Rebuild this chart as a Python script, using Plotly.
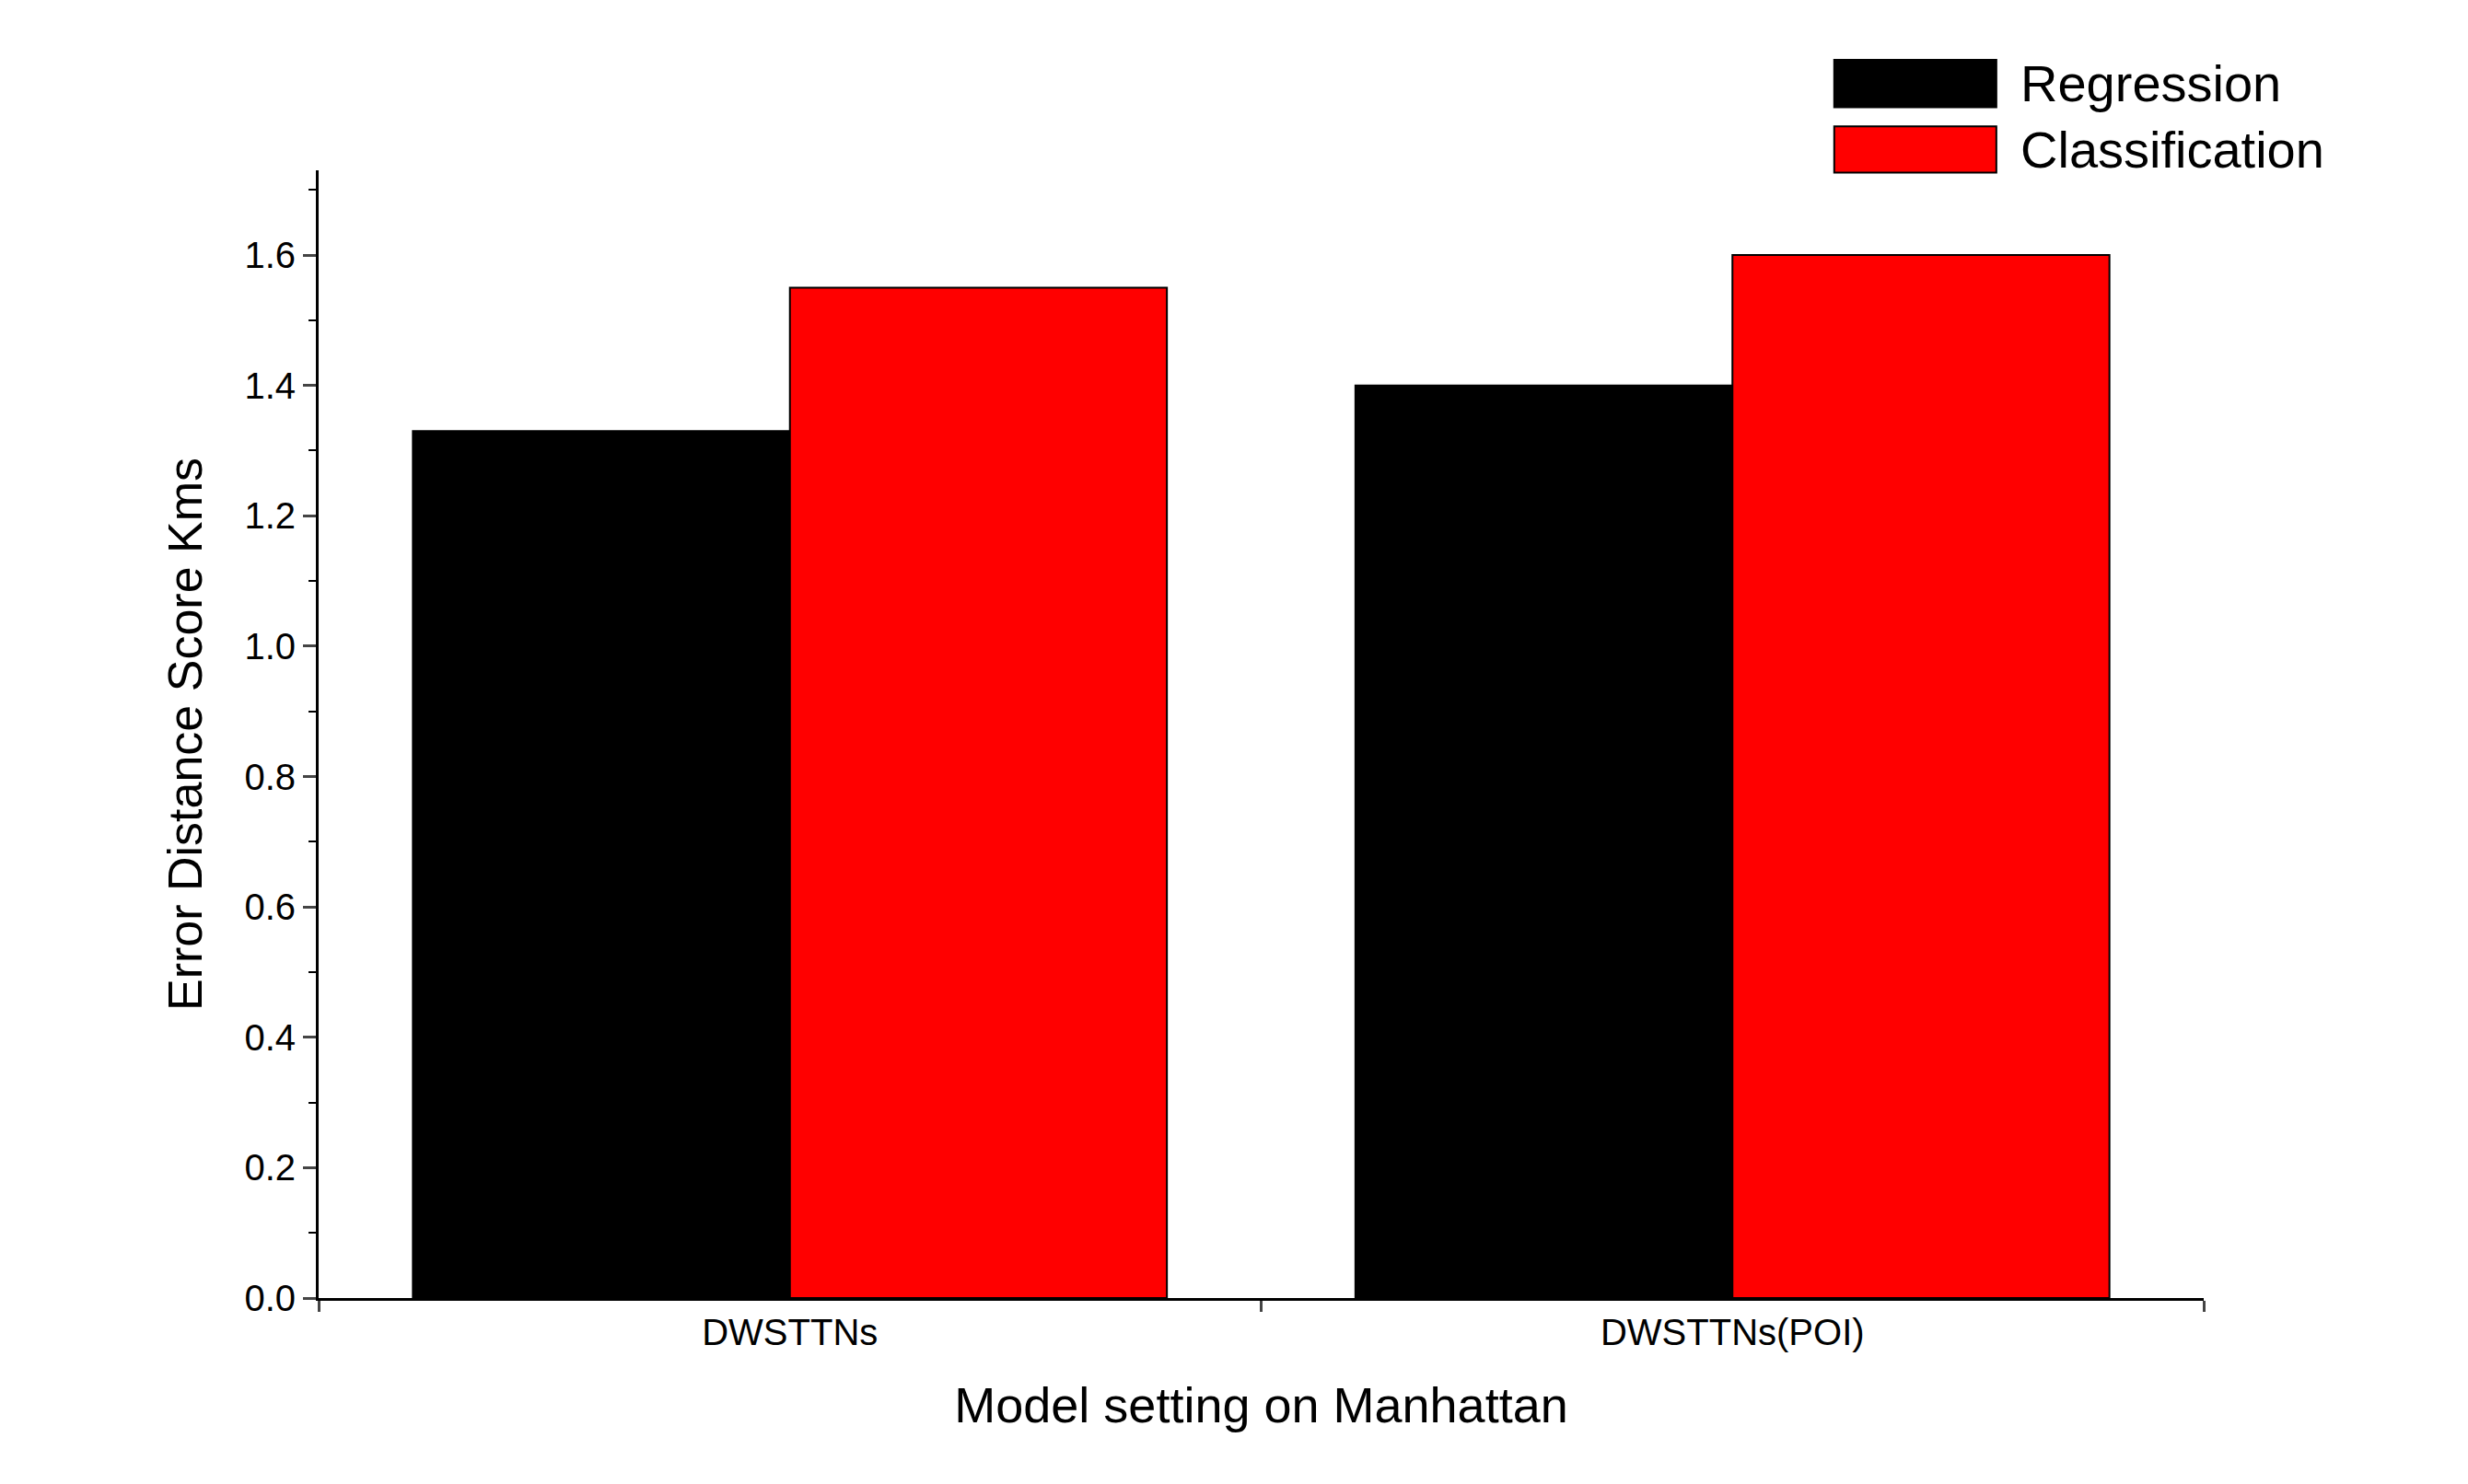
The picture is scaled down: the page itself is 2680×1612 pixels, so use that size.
import plotly.graph_objects as go

categories = ["DWSTTNs", "DWSTTNs(POI)"]
regression = [1.33, 1.40]
classification = [1.55, 1.60]

fig = go.Figure()
fig.add_bar(x=categories, y=regression, name="Regression", marker=dict(color="black", line=dict(color="black", width=2)))
fig.add_bar(x=categories, y=classification, name="Classification", marker=dict(color="#ff0000", line=dict(color="black", width=2)))

F = "Liberation Sans, Arial"
fig.update_layout(
    width=2680, height=1612, barmode="group", bargap=0.2, bargroupgap=0,
    plot_bgcolor="white", paper_bgcolor="white", showlegend=False,
    margin=dict(l=338, r=295, t=177, b=210),
    font=dict(family=F, color="black"),
    xaxis=dict(showline=True, linecolor="black", linewidth=3, ticks="outside", tickson="boundaries",
               ticklen=12, tickwidth=3, tickfont=dict(size=40),
               title=dict(text="Model setting on Manhattan", font=dict(size=54), standoff=40)),
    yaxis=dict(range=[0, 1.73], dtick=0.2, tickformat=".1f", showline=True, linecolor="black", linewidth=3,
               ticks="outside", ticklen=14, tickwidth=3, showgrid=False, zeroline=False,
               tickfont=dict(size=40),
               minor=dict(dtick=0.1, ticks="outside", ticklen=8, tickwidth=2, tickcolor="black"),
               title=dict(text="Error Distance Score Kms", font=dict(size=52), standoff=30)),
)
for (y0, y1, col, name) in [(1.056, 1.098, "black", "Regression"), (0.998, 1.039, "#ff0000", "Classification")]:
    fig.add_shape(type="rect", xref="paper", yref="paper", x0=0.804, x1=0.890, y0=y0, y1=y1,
                  fillcolor=col, line=dict(color="black", width=2))
    fig.add_annotation(xref="paper", yref="paper", x=0.902, y=(y0 + y1) / 2, text=name, showarrow=False,
                       xanchor="left", yanchor="middle", font=dict(size=56, family=F))
fig.write_html("out.html")
